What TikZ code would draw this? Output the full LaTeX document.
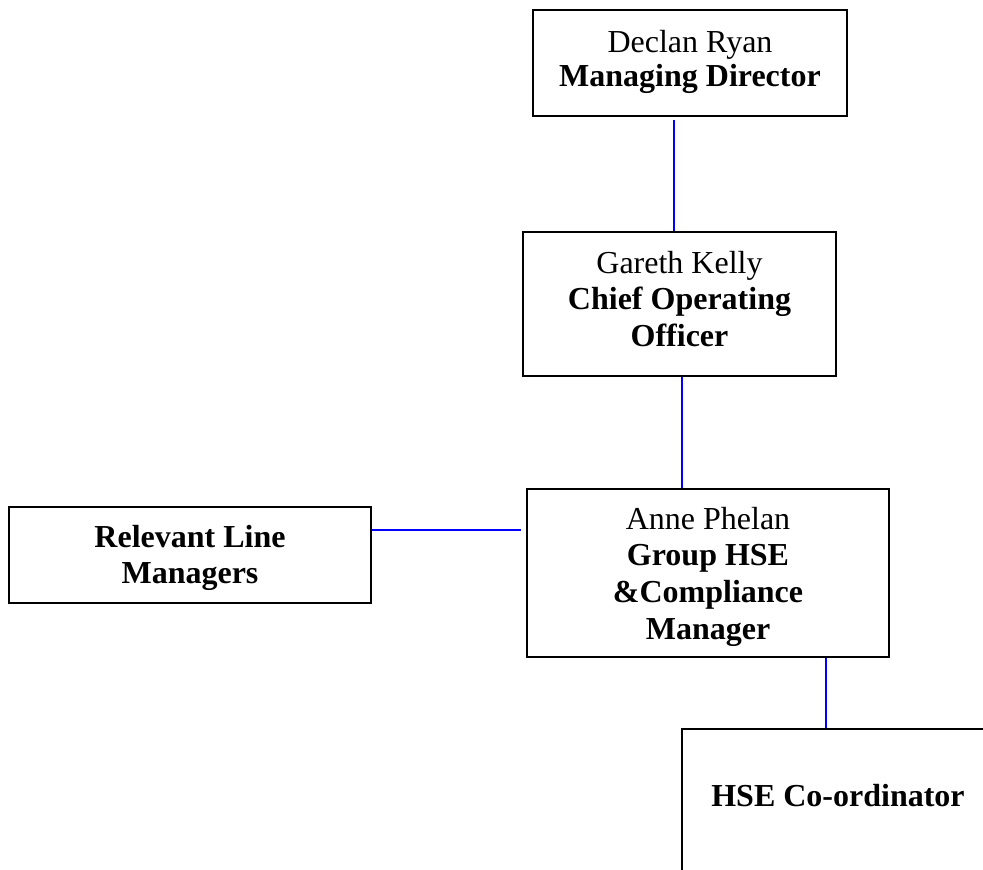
\documentclass[tikz,border=0pt]{standalone}
\usepackage{fontspec}
\setmainfont{Liberation Serif}
\newcommand\orgtext[1]{\begin{tabular}[t]{@{}c@{}}#1\end{tabular}}
\tikzset{
  orgbox/.style={draw=black, line width=2pt, inner sep=0pt, text height=0pt,
    font=\fontsize{32}{36.9}\selectfont},
  link/.style={draw=blue, line width=2pt},
}
\begin{document}
\begin{tikzpicture}[x=1pt, y=-1pt]
\useasboundingbox (0,0) rectangle (983,870);
\clip (0,0) rectangle (983,870);
\node[orgbox, minimum width=314pt, minimum height=106pt, text depth=22pt,
      font=\fontsize{32}{34.3}\selectfont] (md) at (690,63)
  {\orgtext{Declan Ryan\\\textbf{Managing Director}}};
\node[orgbox, minimum width=313pt, minimum height=144pt, text depth=62pt] (coo) at (679.5,304)
  {\orgtext{Gareth Kelly\\\textbf{Chief Operating}\\\textbf{Officer}}};
\node[orgbox, minimum width=362pt, minimum height=168pt, text depth=88pt] (hse) at (708,573)
  {\orgtext{Anne Phelan\\\textbf{Group HSE}\\\textbf{\&Compliance}\\\textbf{Manager}}};
\node[orgbox, minimum width=362pt, minimum height=96pt, text depth=15pt] (rlm) at (190,554.5)
  {\orgtext{\textbf{Relevant Line}\\\textbf{Managers}}};
\node[orgbox, minimum width=312pt, minimum height=200pt, text depth=46pt] (coord) at (838,829)
  {\orgtext{\textbf{HSE Co-ordinator}}};
\coordinate (c1) at (674,120);
\coordinate (c2) at (682,0);
\coordinate (c3) at (521,530);
\coordinate (c4) at (826,0);
\draw[link] (c1) -- (c1 |- coo.north);
\draw[link] (coo.south -| c2) -- (hse.north -| c2);
\draw[link] (rlm.east |- c3) -- (c3);
\draw[link] (hse.south -| c4) -- (coord.north -| c4);
\end{tikzpicture}
\end{document}
